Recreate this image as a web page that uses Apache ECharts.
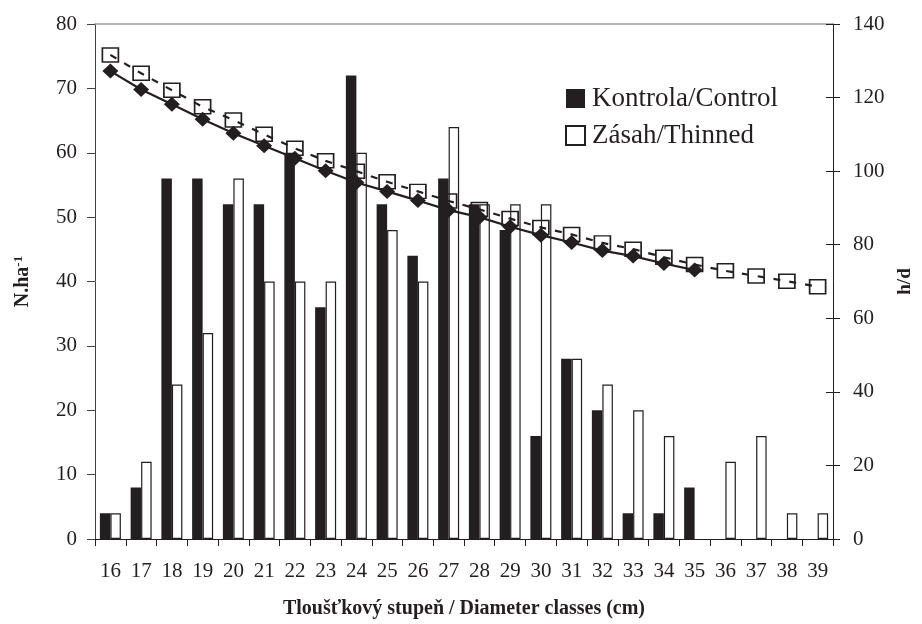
<!DOCTYPE html>
<html>
<head>
<meta charset="utf-8">
<script src="https://cdn.jsdelivr.net/npm/echarts@6/dist/echarts.min.js"></script>
<style>html,body{margin:0;padding:0;background:#fff}#c{width:922px;height:624px}</style>
</head>
<body>
<div id="c"></div>
<script>
const categories = ['16','17','18','19','20','21','22','23','24','25','26','27','28','29','30','31','32','33','34','35','36','37','38','39'];
const controlN = [4,8,56,56,52,52,60,36,72,52,44,56,52,48,16,28,20,4,4,8,null,null,null,null];
const thinnedN = [4,12,24,32,56,40,40,40,60,48,40,64,52,52,52,28,24,20,16,null,12,16,4,4];
const controlHD = [127.2,122.2,118.2,114.1,110.3,106.9,103.5,100.1,96.9,94.5,92.0,89.4,87.5,84.9,82.6,80.6,78.4,76.9,74.9,73.1,null,null,null,null];
const thinnedHD = [131.6,126.6,122.0,117.5,113.9,110.0,106.2,102.8,100.0,97.1,94.5,91.9,89.6,87.1,84.7,82.8,80.5,78.8,76.6,74.6,72.9,71.5,70.1,68.6];
const leftTicks = {min:0, max:80, interval:10};
const rightTicks = {min:0, max:140, interval:20};

const font = '"Liberation Serif","Times New Roman",serif';
const ink = '#231f20';
const chart = echarts.init(document.getElementById('c'), null, {renderer:'canvas'});
chart.setOption({
  animation:false,
  backgroundColor:'#fff',
  textStyle:{fontFamily:font, color:ink},
  grid:{left:95, right:89, top:24, bottom:85, containLabel:false, outerBoundsMode:'none'},
  legend:{
    data:['Kontrola/Control','Zásah/Thinned'],
    orient:'vertical', left:560, top:80,
    icon:'rect', itemWidth:19, itemHeight:19, itemGap:10,
    textStyle:{fontFamily:font, fontSize:27, color:ink, padding:[0,0,0,2]}
  },
  xAxis:[{
    type:'category', data:categories, position:'bottom',
    axisLine:{onZero:false, lineStyle:{color:ink, width:1}},
    axisTick:{show:true, length:7, lineStyle:{color:ink}, alignWithLabel:false},
    axisLabel:{fontFamily:font, fontSize:21, color:ink, margin:22, interval:0},
    name:'Tloušťkový stupeň / Diameter classes (cm)', nameLocation:'middle', nameGap:60,
    nameTextStyle:{fontFamily:font, fontSize:20, fontWeight:'bold', color:ink}
  },{
    type:'category', data:categories, position:'top',
    axisLine:{show:true, onZero:false, lineStyle:{color:'#9a9a9a', width:1.5}},
    axisTick:{show:false}, axisLabel:{show:false}
  }],
  yAxis:[{
    type:'value', position:'left', min:leftTicks.min, max:leftTicks.max, interval:leftTicks.interval,
    axisLine:{show:true, lineStyle:{color:'#444', width:1}},
    axisTick:{show:true, length:8, lineStyle:{color:'#444'}},
    splitLine:{show:false},
    axisLabel:{fontFamily:font, fontSize:21, color:ink, margin:18},
    name:'N.ha{sup|-1}', nameLocation:'middle', nameGap:62, nameRotate:90,
    nameTextStyle:{fontFamily:font, fontSize:20, fontWeight:'bold', color:ink,
      rich:{sup:{fontFamily:font, fontSize:13, fontWeight:'bold', color:ink, verticalAlign:'top', padding:[0,0,8,0]}}}
  },{
    type:'value', position:'right', min:rightTicks.min, max:rightTicks.max, interval:rightTicks.interval,
    axisLine:{show:true, lineStyle:{color:ink, width:1}},
    axisTick:{show:true, length:7, lineStyle:{color:ink}},
    splitLine:{show:false},
    axisLabel:{fontFamily:font, fontSize:21, color:ink, margin:20},
    name:'h/d', nameLocation:'middle', nameGap:62, nameRotate:90,
    nameTextStyle:{fontFamily:font, fontSize:19, fontWeight:'bold', color:ink}
  },{
    type:'value', position:'right', min:rightTicks.min, max:rightTicks.max, interval:rightTicks.interval,
    axisLine:{show:false},
    axisTick:{show:true, inside:true, length:7, lineStyle:{color:ink}},
    splitLine:{show:false}, axisLabel:{show:false}
  }],
  series:[{
    name:'Kontrola/Control', type:'bar', data:controlN, xAxisIndex:0, yAxisIndex:0,
    barWidth:10.5, barGap:'0%',
    itemStyle:{color:ink}
  },{
    name:'Zásah/Thinned', type:'bar', data:thinnedN, xAxisIndex:0, yAxisIndex:0,
    barWidth:10.5, barGap:'0%',
    itemStyle:{color:'#fff', borderColor:ink, borderWidth:1.2}
  },{
    name:'h/d Zásah', type:'line', data:thinnedHD, xAxisIndex:0, yAxisIndex:1,
    symbol:'rect', symbolSize:[16,14], z:5,
    lineStyle:{color:ink, width:2.2, type:[7,9]},
    itemStyle:{color:'rgba(255,255,255,0)', borderColor:ink, borderWidth:1.6}
  },{
    name:'h/d Kontrola', type:'line', data:controlHD, xAxisIndex:0, yAxisIndex:1,
    symbol:'diamond', symbolSize:[16,15], z:6, connectNulls:false,
    lineStyle:{color:ink, width:2.2},
    itemStyle:{color:ink}
  }]
});
</script>
</body>
</html>
